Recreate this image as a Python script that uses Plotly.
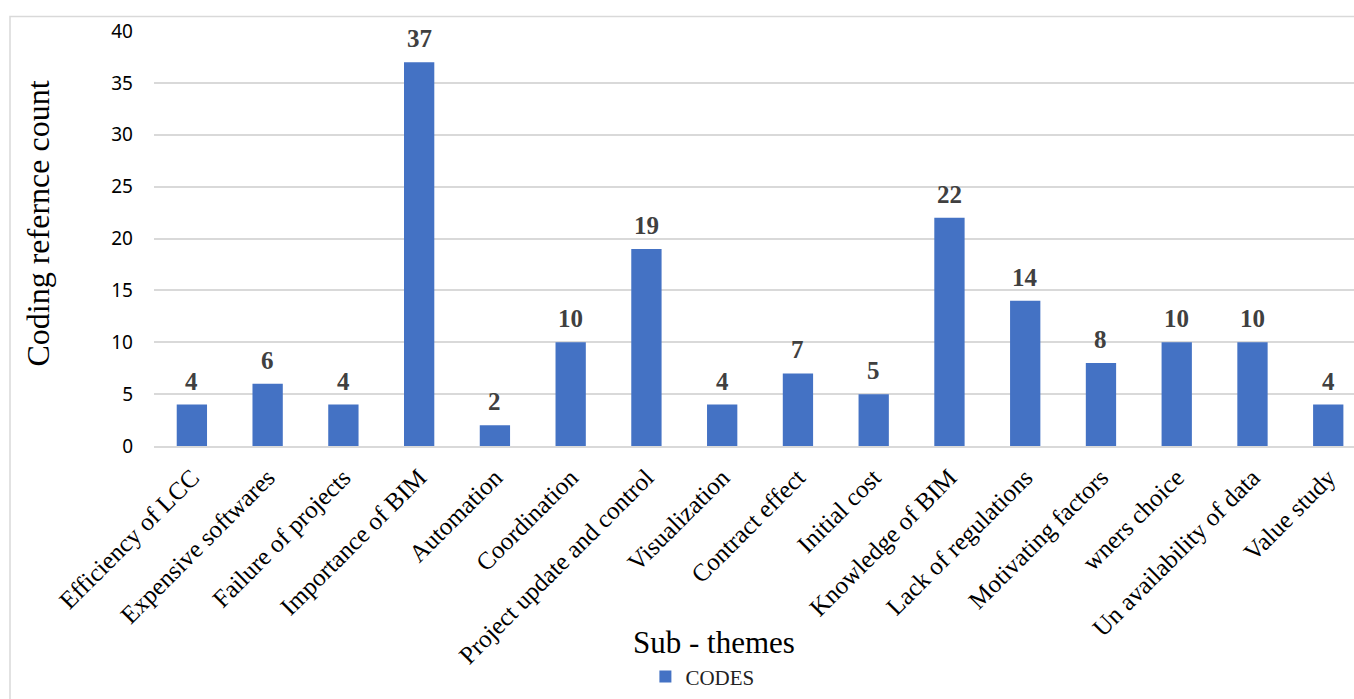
import plotly.graph_objects as go

categories = ["Efficiency of LCC", "Expensive softwares", "Failure of projects",
              "Importance of BIM", "Automation", "Coordination",
              "Project update and control", "Visualization", "Contract effect",
              "Initial cost", "Knowledge of BIM", "Lack of regulations",
              "Motivating factors", "wners choice", "Un availability of data",
              "Value study"]
codes = [4, 6, 4, 37, 2, 10, 19, 4, 7, 5, 22, 14, 8, 10, 10, 4]
y_ticks = [0, 5, 10, 15, 20, 25, 30, 35, 40]

SERIF = "Liberation Serif, Times New Roman, serif"
SANS = "Noto Sans, Liberation Sans, sans-serif"
BLUE = "#4472C4"

x_idx = list(range(len(categories)))

fig = go.Figure()
fig.add_trace(go.Bar(
    x=x_idx, y=codes, name="CODES",
    marker=dict(color=BLUE, line=dict(width=0)),
    width=0.4,
))

for xi, v in zip(x_idx, codes):
    fig.add_annotation(x=xi, y=v, text=f"<b>{v}</b>", showarrow=False,
                       yanchor="bottom", yshift=8,
                       font=dict(family=SERIF, size=25, color="#404040"))

# axis titles
fig.add_annotation(xref="paper", yref="paper", x=-0.097, y=0.535,
                   text="Coding refernce count", textangle=-90, showarrow=False,
                   xanchor="center", yanchor="middle",
                   font=dict(family=SERIF, size=32, color="black"))
fig.add_annotation(xref="paper", yref="paper", x=0.467, y=-0.474,
                   text="Sub - themes", showarrow=False,
                   xanchor="center", yanchor="middle",
                   font=dict(family=SERIF, size=31, color="black"))

# outer chart frame
fig.add_shape(type="rect", xref="paper", yref="paper",
              x0=-0.12, x1=1.05, y0=-0.7, y1=1.035,
              line=dict(color="#d9d9d9", width=1.5), fillcolor="rgba(0,0,0,0)",
              layer="below")

fig.update_layout(
    width=1354, height=699,
    margin=dict(l=154, r=0, t=31, b=253),
    plot_bgcolor="white", paper_bgcolor="white",
    showlegend=True,
    legend=dict(orientation="h", x=0.457, y=-0.556, xanchor="center",
                yanchor="middle", font=dict(family=SERIF, size=21, color="#222"),
                itemwidth=30),
    xaxis=dict(
        tickmode="array", tickvals=x_idx, ticktext=categories,
        range=[-0.5, 15.34], tickangle=-45,
        tickfont=dict(family=SERIF, size=25, color="black"),
        showgrid=False, showline=True, linecolor="#d9d9d9", linewidth=2,
        ticks="", ticklabelstandoff=5, zeroline=False,
    ),
    yaxis=dict(
        range=[0, 40], tickmode="array", tickvals=y_ticks,
        tickfont=dict(family=SANS, size=19, color="black"),
        showgrid=True, gridcolor="#d9d9d9", gridwidth=1.5,
        zeroline=False, showline=False, ticks="", ticklabelstandoff=20,
    ),
    bargap=0.6,
)

fig.write_html("out.html")
